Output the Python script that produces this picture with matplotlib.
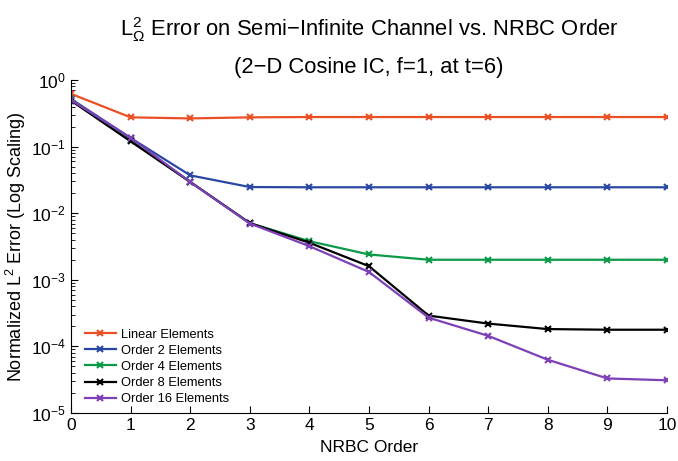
import numpy as np
from matplotlib import pyplot as plt

plt.rcParams['font.family'] = ['Liberation Sans', 'DejaVu Sans']
plt.rcParams['mathtext.fontset'] = 'custom'
plt.rcParams['mathtext.rm'] = 'Liberation Sans'
plt.rcParams['mathtext.it'] = 'Liberation Sans'

# Data
nrbc_order = [0, 1, 2, 3, 4, 5, 6, 7, 8, 9, 10]
linear = [0.62, 0.275, 0.265, 0.275, 0.278, 0.278, 0.278, 0.278, 0.278, 0.278, 0.278]
order2 = [0.52, 0.135, 0.037, 0.0247, 0.0245, 0.0245, 0.0245, 0.0245, 0.0245, 0.0245, 0.0245]
order4 = [0.51, 0.125, 0.0295, 0.0071, 0.0038, 0.0024, 0.0020, 0.0020, 0.0020, 0.0020, 0.0020]
order8 = [0.49, 0.12, 0.0295, 0.0071, 0.0036, 0.0016, 0.00029, 0.00022, 0.000182, 0.000178, 0.000178]
order16 = [0.50, 0.135, 0.0295, 0.0070, 0.0032, 0.00131, 0.00027, 0.000144, 0.000063, 0.000033, 0.000031]

series = [
    ('Linear Elements', linear, '#ea4f26'),
    ('Order 2 Elements', order2, '#2a48a3'),
    ('Order 4 Elements', order4, '#0b9a47'),
    ('Order 8 Elements', order8, '#000000'),
    ('Order 16 Elements', order16, '#7e40b6'),
]

fig = plt.figure(figsize=(6.78, 4.61), dpi=100)
ax = fig.add_axes([71 / 678, 1 - 413 / 461, 596 / 678, 333 / 461])

for label, vals, color in series:
    ax.semilogy(nrbc_order, vals, color=color, marker='x', markersize=4,
                markeredgewidth=1.5, linewidth=1.6, label=label)

ax.set_xlim(0, 10)
ax.set_ylim(1e-5, 1)
ax.set_xticks(nrbc_order)
ax.spines['top'].set_visible(False)
ax.spines['right'].set_visible(False)
ax.tick_params(which='both', direction='in', labelsize=12.5)
ax.tick_params(which='major', length=5)
ax.tick_params(which='minor', length=3)

ax.set_xlabel('NRBC Order', fontsize=12.5, labelpad=5)
ax.set_ylabel('Normalized L$^2$ Error (Log Scaling)', fontsize=13, labelpad=2)
fig.text(369 / 678, 1 - 30 / 461, 'L$^2_{\\Omega}$ Error on Semi\u2212Infinite Channel vs. NRBC Order',
         ha='center', va='center', fontsize=15.8)
fig.text(369 / 678, 1 - 67 / 461, '(2\u2212D Cosine IC, f=1, at t=6)',
         ha='center', va='center', fontsize=15.8)

ax.legend(loc='lower left', bbox_to_anchor=(0.01, 0.0), frameon=False, fontsize=9.3,
          handlelength=2.4, labelspacing=0.32, borderaxespad=0.2, handletextpad=0.4)

plt.savefig('out.png', dpi=100)
